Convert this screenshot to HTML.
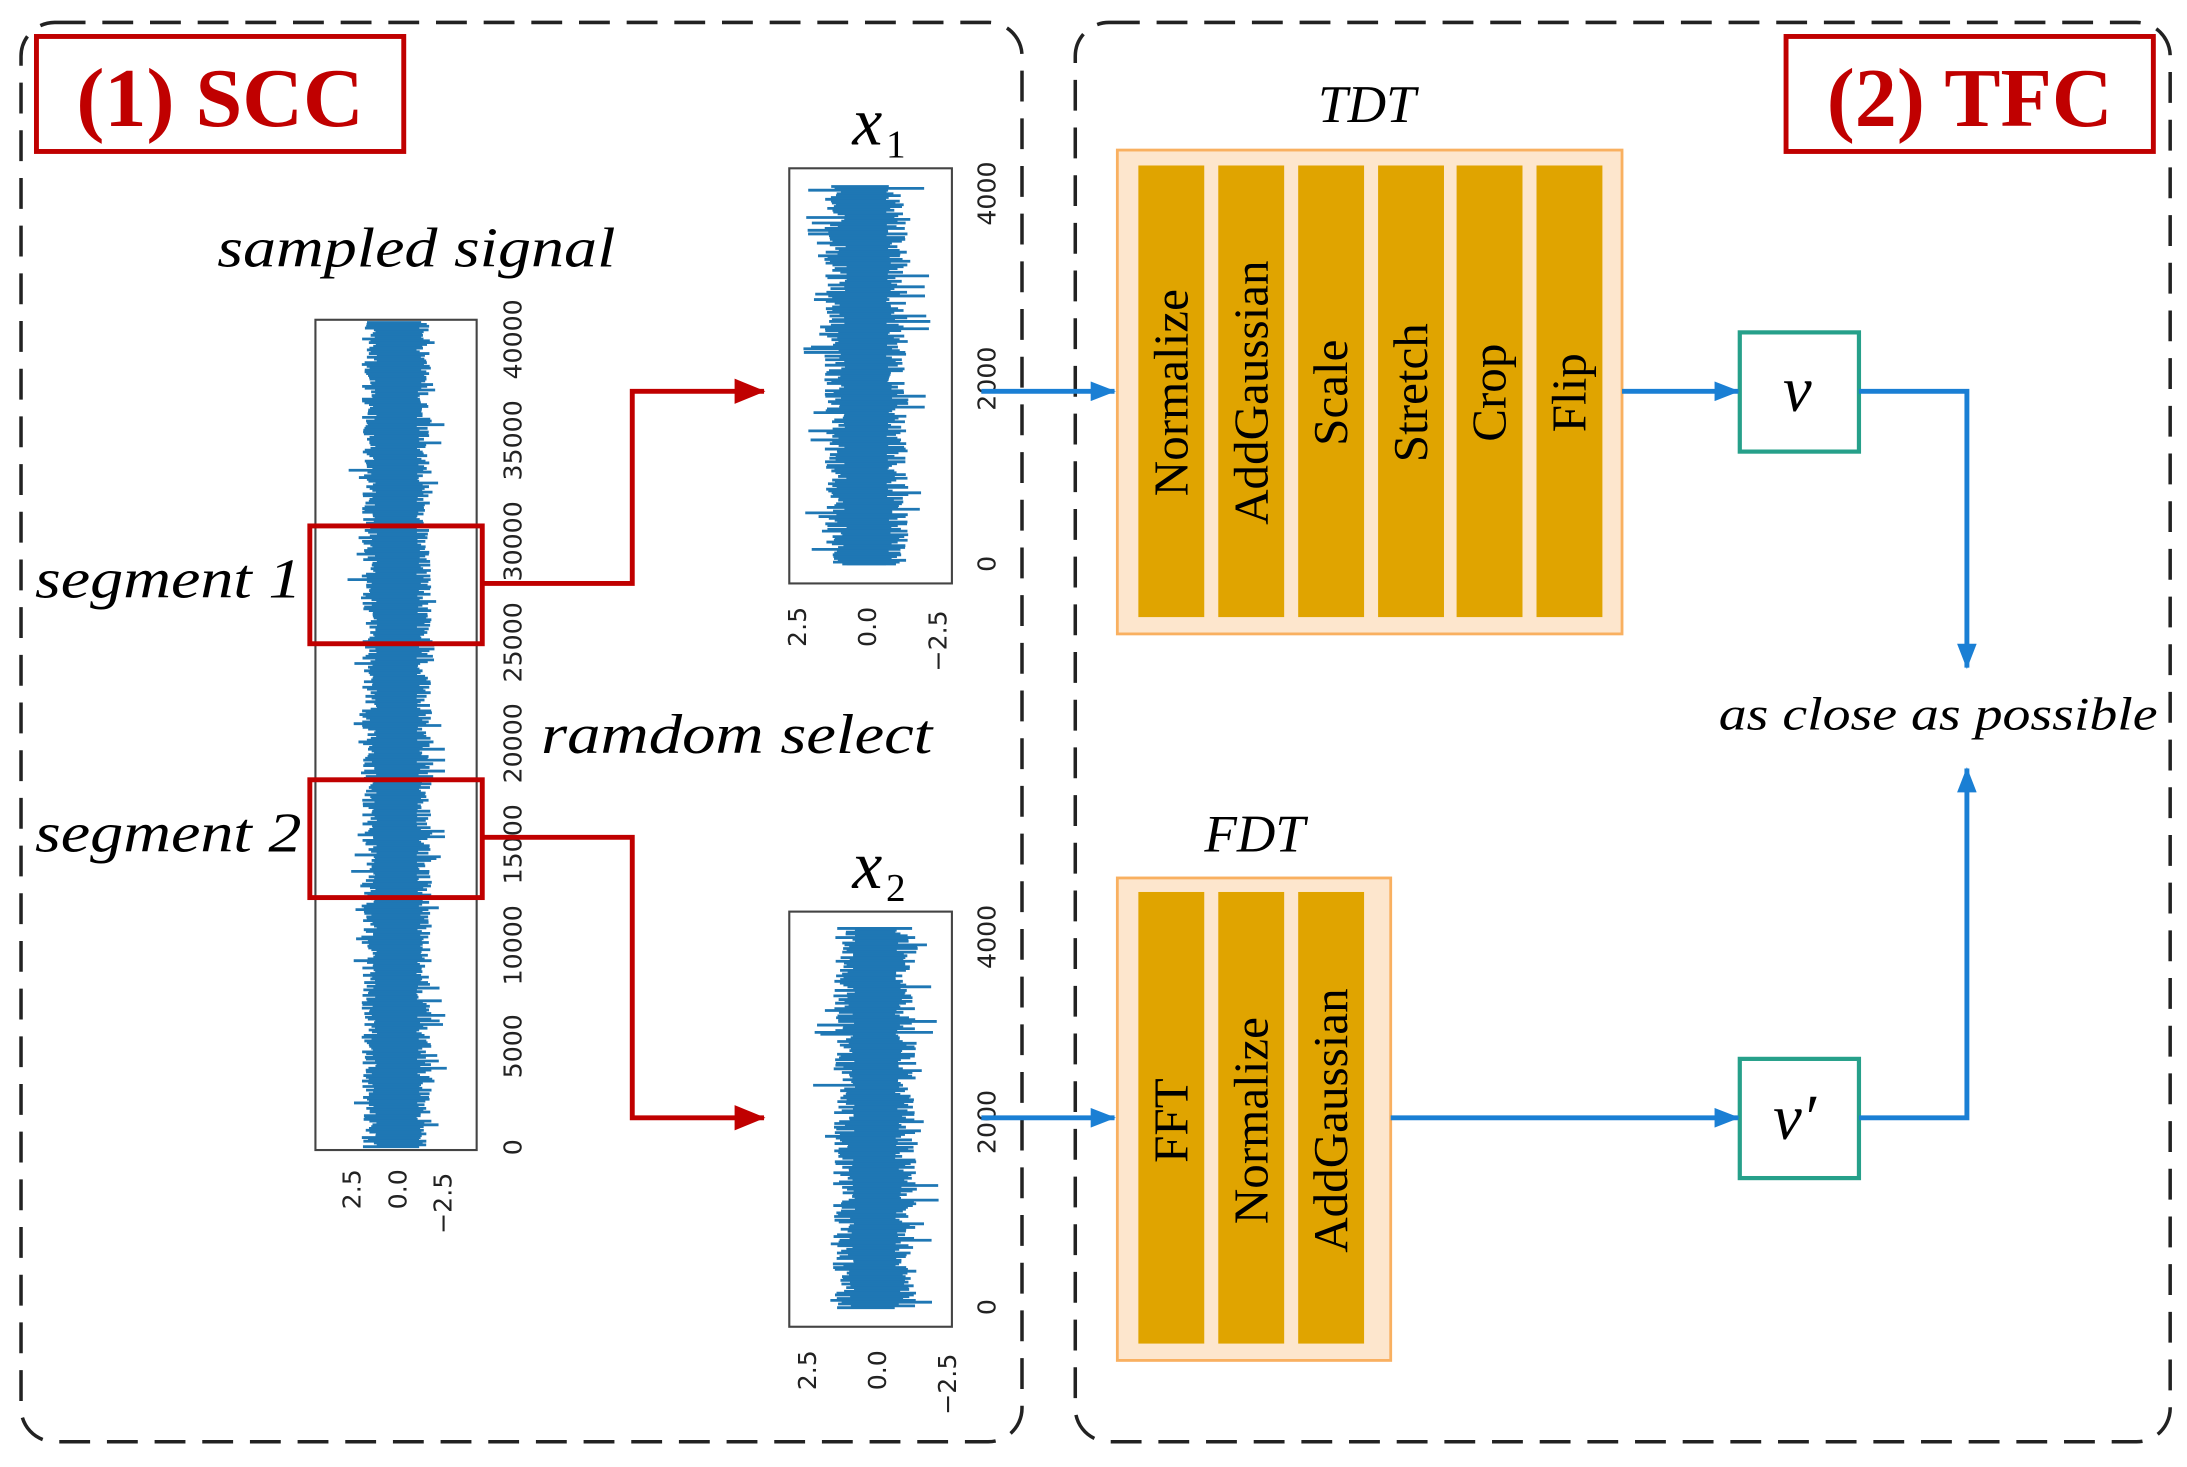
<!DOCTYPE html>
<html><head><meta charset="utf-8"><style>
html,body{margin:0;padding:0;background:#fff;width:2187px;height:1467px;overflow:hidden}
svg{display:block}
text{font-family:"Liberation Serif",serif}
text.s, .s text{font-family:"DejaVu Sans","Liberation Sans",sans-serif;font-size:18px;fill:#222}
</style></head><body>
<svg id="sv" width="2187" height="1467" viewBox="0 0 1560 1046" preserveAspectRatio="none" xmlns="http://www.w3.org/2000/svg">
<defs>
<marker id="ab" markerWidth="18" markerHeight="14" refX="17" refY="7" orient="auto" markerUnits="userSpaceOnUse"><path d="M0,0 L18,7 L0,14Z" fill="#1a7fd4"/></marker>
<marker id="ar2" markerWidth="22" markerHeight="18" refX="21" refY="9" orient="auto" markerUnits="userSpaceOnUse"><path d="M0,0 L22,9 L0,18Z" fill="#c00000"/></marker>
</defs>
<rect x="15" y="16" width="714" height="1012" rx="24" fill="none" stroke="#222" stroke-width="2.5" stroke-dasharray="22,12"/>
<rect x="767" y="16" width="781" height="1012" rx="24" fill="none" stroke="#222" stroke-width="2.5" stroke-dasharray="22,12"/>
<rect x="26" y="26" width="262" height="82" fill="#fff" stroke="#c00000" stroke-width="3.5"/>
<text x="157" y="90" text-anchor="middle" font-size="60" font-weight="bold" fill="#c00000">(1) SCC</text>
<rect x="1274" y="26" width="262" height="82" fill="#fff" stroke="#c00000" stroke-width="3.5"/>
<text x="1405" y="90" text-anchor="middle" font-size="60" font-weight="bold" fill="#c00000">(2) TFC</text>

<text x="155" y="190" font-size="40" font-style="italic" textLength="284" lengthAdjust="spacingAndGlyphs">sampled signal</text>
<text x="25" y="426" font-size="40" font-style="italic" textLength="190" lengthAdjust="spacingAndGlyphs">segment 1</text>
<text x="25" y="607" font-size="40" font-style="italic" textLength="190" lengthAdjust="spacingAndGlyphs">segment 2</text>
<text x="386" y="537" font-size="40" font-style="italic" textLength="279" lengthAdjust="spacingAndGlyphs">ramdom select</text>
<text x="608" y="103" font-size="48" font-style="italic">x</text><text x="632" y="112" font-size="28">1</text>
<text x="608" y="633" font-size="48" font-style="italic">x</text><text x="632" y="642" font-size="28">2</text>

<g id="plots"></g>
<rect x="225" y="228" width="115" height="592" fill="none" stroke="#444" stroke-width="1.5"/>
<rect x="563" y="120" width="116" height="296" fill="none" stroke="#444" stroke-width="1.5"/>
<rect x="563" y="650" width="116" height="296" fill="none" stroke="#444" stroke-width="1.5"/>

<g class="s">
<text transform="translate(372,818) rotate(-90)" text-anchor="middle">0</text>
<text transform="translate(372,746) rotate(-90)" text-anchor="middle">5000</text>
<text transform="translate(372,674) rotate(-90)" text-anchor="middle">10000</text>
<text transform="translate(372,602) rotate(-90)" text-anchor="middle">15000</text>
<text transform="translate(372,530) rotate(-90)" text-anchor="middle">20000</text>
<text transform="translate(372,458) rotate(-90)" text-anchor="middle">25000</text>
<text transform="translate(372,386) rotate(-90)" text-anchor="middle">30000</text>
<text transform="translate(372,314) rotate(-90)" text-anchor="middle">35000</text>
<text transform="translate(372,242) rotate(-90)" text-anchor="middle">40000</text>
<text transform="translate(257,848) rotate(-90)" text-anchor="middle">2.5</text>
<text transform="translate(290,848) rotate(-90)" text-anchor="middle">0.0</text>
<text transform="translate(322,858) rotate(-90)" text-anchor="middle">−2.5</text>
<text transform="translate(710,402) rotate(-90)" text-anchor="middle">0</text>
<text transform="translate(710,270) rotate(-90)" text-anchor="middle">2000</text>
<text transform="translate(710,138) rotate(-90)" text-anchor="middle">4000</text>
<text transform="translate(575,447) rotate(-90)" text-anchor="middle">2.5</text>
<text transform="translate(625,447) rotate(-90)" text-anchor="middle">0.0</text>
<text transform="translate(675,457) rotate(-90)" text-anchor="middle">−2.5</text>
<text transform="translate(710,932) rotate(-90)" text-anchor="middle">0</text>
<text transform="translate(710,800) rotate(-90)" text-anchor="middle">2000</text>
<text transform="translate(710,668) rotate(-90)" text-anchor="middle">4000</text>
<text transform="translate(582,977) rotate(-90)" text-anchor="middle">2.5</text>
<text transform="translate(632,977) rotate(-90)" text-anchor="middle">0.0</text>
<text transform="translate(682,987) rotate(-90)" text-anchor="middle">−2.5</text>
</g>

<rect x="221" y="375" width="123" height="84" fill="none" stroke="#c00000" stroke-width="3.5"/>
<rect x="221" y="556" width="123" height="84" fill="none" stroke="#c00000" stroke-width="3.5"/>
<polyline points="344,416 451,416 451,279 545,279" fill="none" stroke="#c00000" stroke-width="3.5" marker-end="url(#ar2)"/>
<polyline points="344,597 451,597 451,797 545,797" fill="none" stroke="#c00000" stroke-width="3.5" marker-end="url(#ar2)"/>

<text x="975" y="87" text-anchor="middle" font-size="38" font-style="italic">TDT</text>
<rect x="797" y="107" width="360" height="345" fill="#fde6cd" stroke="#f9b060" stroke-width="2"/>
<g fill="#e0a400">
<rect x="812" y="118" width="47" height="322"/><rect x="869" y="118" width="47" height="322"/>
<rect x="926" y="118" width="47" height="322"/><rect x="983" y="118" width="47" height="322"/>
<rect x="1039" y="118" width="47" height="322"/><rect x="1096" y="118" width="47" height="322"/>
</g>
<g font-size="35" text-anchor="middle">
<text transform="translate(847,280) rotate(-90)">Normalize</text>
<text transform="translate(904,280) rotate(-90)">AddGaussian</text>
<text transform="translate(961,280) rotate(-90)">Scale</text>
<text transform="translate(1018,280) rotate(-90)">Stretch</text>
<text transform="translate(1074,280) rotate(-90)">Crop</text>
<text transform="translate(1131,280) rotate(-90)">Flip</text>
</g>
<text x="895" y="607" text-anchor="middle" font-size="38" font-style="italic">FDT</text>
<rect x="797" y="626" width="195" height="344" fill="#fde6cd" stroke="#f9b060" stroke-width="2"/>
<g fill="#e0a400">
<rect x="812" y="636" width="47" height="322"/><rect x="869" y="636" width="47" height="322"/><rect x="926" y="636" width="47" height="322"/>
</g>
<g font-size="35" text-anchor="middle">
<text transform="translate(847,799) rotate(-90)">FFT</text>
<text transform="translate(904,799) rotate(-90)">Normalize</text>
<text transform="translate(961,799) rotate(-90)">AddGaussian</text>
</g>

<rect x="1241" y="237" width="85" height="85" fill="#fff" stroke="#26a08a" stroke-width="3"/>
<text x="1282" y="293" text-anchor="middle" font-size="46" font-style="italic">v</text>
<rect x="1241" y="755" width="85" height="85" fill="#fff" stroke="#26a08a" stroke-width="3"/>
<text x="1280" y="812" text-anchor="middle" font-size="46" font-style="italic">v′</text>
<text x="1226" y="520" font-size="33" font-style="italic" textLength="313" lengthAdjust="spacingAndGlyphs">as close as possible</text>

<g fill="none" stroke="#1a7fd4" stroke-width="3.5">
<line x1="700" y1="279" x2="795" y2="279" marker-end="url(#ab)"/>
<line x1="700" y1="797" x2="795" y2="797" marker-end="url(#ab)"/>
<line x1="1157" y1="279" x2="1240" y2="279" marker-end="url(#ab)"/>
<line x1="992" y1="797" x2="1240" y2="797" marker-end="url(#ab)"/>
<polyline points="1326,279 1403,279 1403,476" marker-end="url(#ab)"/>
<polyline points="1326,797 1403,797 1403,548" marker-end="url(#ab)"/>
</g>
</svg>
<script>
(function(){
var s=12345;function r(){s=(s*1103515245+12345)%2147483648;return s/2147483648;}
var NS="http://www.w3.org/2000/svg",G=document.getElementById("plots");
function line(x1,x2,y){var l=document.createElementNS(NS,"line");l.setAttribute("x1",x1.toFixed(1));l.setAttribute("x2",x2.toFixed(1));l.setAttribute("y1",y.toFixed(1));l.setAttribute("y2",y.toFixed(1));l.setAttribute("stroke","#1f77b4");l.setAttribute("stroke-width","2");G.appendChild(l);}
function sig(cx,y0,y1,core,amp){
 var b=document.createElementNS(NS,"rect");b.setAttribute("x",cx-core);b.setAttribute("y",y0);
 b.setAttribute("width",core*2);b.setAttribute("height",y1-y0);b.setAttribute("fill","#1f77b4");G.appendChild(b);
 for(var y=y0;y<y1;y+=1.3){
  var a=core+r()*(amp-core)*0.5, c=core+r()*(amp-core)*0.5;
  if(r()<0.12){a=core+r()*(amp-core);} if(r()<0.12){c=core+r()*(amp-core);}
  line(cx-a,cx+c,y);
 }
}
sig(283,230,818,14,36);
sig(618,133,403,14,46);
sig(624,662,933,14,46);
})();
</script>
</body></html>
